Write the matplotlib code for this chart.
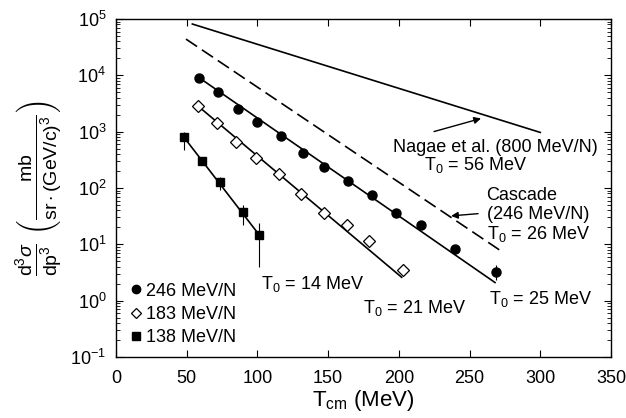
import matplotlib.pyplot as plt
from matplotlib.lines import Line2D
from matplotlib.ticker import LogLocator, NullFormatter

plt.rcParams['font.family'] = ['Liberation Sans', 'DejaVu Sans']
plt.rcParams['mathtext.fontset'] = 'custom'
plt.rcParams['mathtext.rm'] = 'Liberation Sans'
plt.rcParams['mathtext.it'] = 'Liberation Sans:italic'
plt.rcParams['mathtext.sf'] = 'Liberation Sans'

# 246 MeV/N (filled circles)
t246 = [59, 72, 86, 100, 117, 132, 147, 164, 181, 198, 216, 240, 269]
y246 = [9000, 5000, 2500, 1480, 850, 420, 240, 131, 75, 36, 22.5, 8.2, 3.2]
e246_lo = [0, 0, 0, 0, 0, 0, 0, 0, 0, 0, 0, 0, 0.9]
e246_hi = [0, 0, 0, 0, 0, 0, 0, 0, 0, 0, 0, 0, 1.1]

# 183 MeV/N (open diamonds)
t183 = [58, 71.5, 85, 99, 115, 131, 147, 163, 179, 203]
y183 = [2850, 1440, 660, 340, 180, 79, 36, 22, 11.5, 3.5]

# 138 MeV/N (filled squares)
t138 = [48, 60.5, 73.5, 90, 101]
y138 = [800, 300, 129, 37, 14.5]
e138_lo = [330, 40, 36, 15, 10.5]
e138_hi = [200, 55, 29, 13, 9.5]

# fitted lines (end points)
fit246_t = [59, 268]
fit246_y = [9000, 2.1]
fit183_t = [58, 202]
fit183_y = [2850, 2.6]
fit138_t = [48, 101]
fit138_y = [800, 15]

nagae_t = [54, 300]
nagae_y = [81500, 970]
cascade_t = [49.5, 272]
cascade_y = [44000, 7.7]

fig = plt.figure(figsize=(6.26, 4.18), dpi=100)
ax = fig.add_axes([0.1853, 0.1459, 0.7907, 0.8086])

ax.plot(nagae_t, nagae_y, color='black', lw=1.2)
ax.plot(cascade_t, cascade_y, color='black', lw=1.2, dashes=(8, 3.5))
ax.plot(fit246_t, fit246_y, color='black', lw=1.2)
ax.plot(fit183_t, fit183_y, color='black', lw=1.2)
ax.plot(fit138_t, fit138_y, color='black', lw=1.2)

ax.errorbar(t246, y246, yerr=[e246_lo, e246_hi], fmt='o', color='black',
            ms=6.5, elinewidth=0.8, capsize=0)
ax.plot(t183, y183, 'D', mfc='white', mec='black', mew=0.9, ms=6)
ax.errorbar(t138, y138, yerr=[e138_lo, e138_hi], fmt='s', color='black',
            ms=6, elinewidth=0.8, capsize=0)

ax.set_yscale('log')
ax.set_xlim(0, 350)
ax.set_ylim(1e-1, 1e5)
ax.set_xticks(range(0, 351, 50))
ax.yaxis.set_major_locator(LogLocator(base=10, numticks=10))
ax.yaxis.set_minor_locator(LogLocator(base=10, subs=range(2, 10), numticks=20))
ax.yaxis.set_minor_formatter(NullFormatter())
ax.tick_params(which='both', direction='in', top=True, right=True,
               labelsize=13)
ax.tick_params(axis='x', pad=9)
ax.tick_params(axis='y', pad=7)
ax.tick_params(which='major', length=5, width=0.8)
ax.tick_params(which='minor', length=3, width=0.6)
for s in ax.spines.values():
    s.set_linewidth(1.0)

ax.set_xlabel(r'T$_{\mathrm{cm}}$ (MeV)', fontsize=16, labelpad=1)
ax.set_ylabel(r'$\frac{\mathrm{d}^3\sigma}{\mathrm{dp}^3}\ \left(\frac{\mathrm{mb}}{\mathrm{sr}\cdot(\mathrm{GeV/c})^3}\right)$',
              fontsize=20, labelpad=4)

fs = 13
ax.text(268, 520, 'Nagae et al. (800 MeV/N)', fontsize=fs, ha='center', va='center')
ax.text(254, 255, r'T$_0$ = 56 MeV', fontsize=fs, ha='center', va='center')
ax.annotate('', xy=(260, 1770), xytext=(223, 975),
            arrowprops=dict(arrowstyle='-|>', color='black', lw=1, mutation_scale=10))

ax.text(262, 75, 'Cascade', fontsize=fs, ha='left', va='center')
ax.text(262, 34, '(246 MeV/N)', fontsize=fs, ha='left', va='center')
ax.text(262, 15.5, r'T$_0$ = 26 MeV', fontsize=fs, ha='left', va='center')
ax.annotate('', xy=(235, 31.7), xytext=(258, 35.4),
            arrowprops=dict(arrowstyle='-|>', color='black', lw=1, mutation_scale=10))

ax.text(300, 1.05, r'T$_0$ = 25 MeV', fontsize=fs, ha='center', va='center')
ax.text(211, 0.75, r'T$_0$ = 21 MeV', fontsize=fs, ha='center', va='center')
ax.text(139, 2.0, r'T$_0$ = 14 MeV', fontsize=fs, ha='center', va='center')

handles = [
    Line2D([], [], ls='none', marker='o', color='black', ms=6),
    Line2D([], [], ls='none', marker='D', mfc='white', mec='black', mew=0.9, ms=5.5),
    Line2D([], [], ls='none', marker='s', color='black', ms=5.5),
]
ax.legend(handles, ['246 MeV/N', '183 MeV/N', '138 MeV/N'],
          loc='lower left', bbox_to_anchor=(0.0, 0.0), frameon=False,
          fontsize=fs, handletextpad=0.05, handlelength=1.0, labelspacing=0.35,
          borderaxespad=0.2)

fig.savefig('out.png', dpi=100)
